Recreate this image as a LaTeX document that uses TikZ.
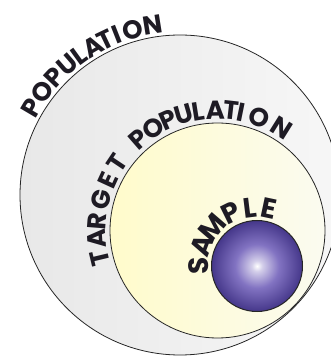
\documentclass[tikz,border=0pt]{standalone}
\usepackage{fontspec}
\newfontfamily\labelfont{Poppins}
\definecolor{popleft}{HTML}{E8E8E8}
\definecolor{popright}{HTML}{F7F7F7}
\definecolor{tgtleft}{HTML}{FFFBCB}
\definecolor{tgtright}{HTML}{FBFBF0}
\definecolor{smpmid}{HTML}{8273C2}
\definecolor{smpdark}{HTML}{45378A}
\definecolor{ink}{HTML}{1E1B24}
\pgfdeclareradialshading{samplesphere}{\pgfpoint{0bp}{0bp}}{color(0bp)=(white);color(3bp)=(smpmid!35!white);color(12bp)=(smpmid);color(25bp)=(smpdark);color(50bp)=(smpdark)}
\tikzset{ring/.style={circle,draw=black!85,line width=0.8pt,inner sep=0pt},letter/.style={inner sep=0pt,anchor=base,text=ink,font=\labelfont\bfseries\fontsize{#1}{#1}\selectfont}}

\begin{document}
\begin{tikzpicture}[x=1pt,y=1pt]
\useasboundingbox (0,0) rectangle (331,356);
\clip (0,0) rectangle (331,356);
\node[ring,minimum size=320pt,left color=popleft,right color=popright] (pop) at (180,161) {};
\node[ring,minimum size=215pt,left color=tgtleft,right color=tgtright] (tgt) at (217.5,125.5) {};
\node[ring,minimum size=91pt,line width=1pt,shading=samplesphere] (smp) at (257,90) {};
% letters round the circles
\foreach \ch/\ang [count=\i] in {P/149.5,O/143,P/136.8,U/131,L/125.8,A/120.5,T/115.5,I/111.5,O/106,N/99}
  \path (pop.center) ++(\ang:163) node[letter=26,rotate=\ang-90] (pop-\i) {\ch};
\foreach \ch/\ang [count=\i] in {T/193.4,A/183.9,R/175.5,G/165.3,E/155.3,T/146.2,P/131,O/122,P/114,U/106,L/99,A/91,T/83.5,I/78.5,O/69.5,N/58}
  \path (tgt.center) ++(\ang:111.5) node[letter=26,rotate=\ang-90] (tgt-\i) {\ch};
\foreach \ch/\ang [count=\i] in {S/180,A/159,M/139.3,P/116.3,L/97,E/78}
  \path (smp.center) ++(\ang:49) node[letter=28,rotate=\ang-90] (smp-\i) {\ch};
\end{tikzpicture}
\end{document}
